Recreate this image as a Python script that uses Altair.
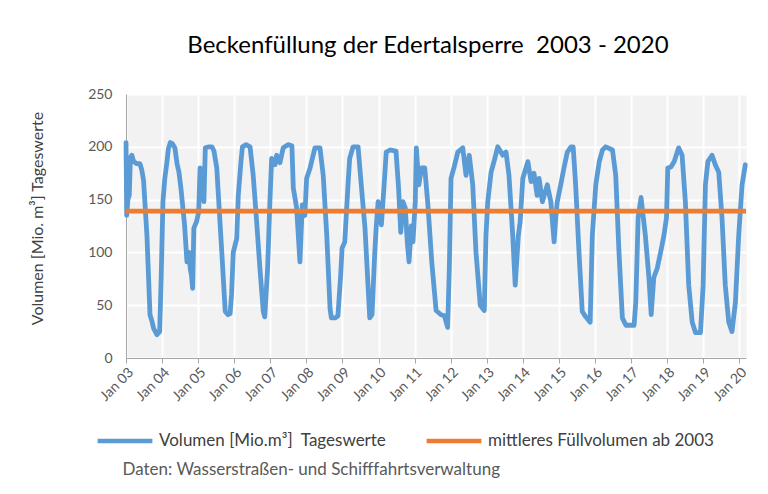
import altair as alt
import pandas as pd

# ---- data ----
dates = [
    "2003-01-01", "2003-01-08", "2003-01-20", "2003-02-03", "2003-02-15", "2003-03-01", "2003-03-20",
    "2003-04-20", "2003-05-22", "2003-06-10", "2003-06-28", "2003-08-01", "2003-09-01", "2003-09-20",
    "2003-10-08", "2003-11-10", "2003-12-08", "2003-12-24",
    "2004-01-10", "2004-01-29", "2004-02-20", "2004-03-05", "2004-03-24", "2004-04-15", "2004-05-10",
    "2004-06-01", "2004-06-20", "2004-07-10", "2004-08-16", "2004-09-09", "2004-09-30", "2004-10-12",
    "2004-10-25", "2004-11-06", "2004-11-18", "2004-12-15",
    "2005-01-06", "2005-01-20", "2005-02-01", "2005-02-20", "2005-02-28", "2005-03-14", "2005-04-20",
    "2005-05-20", "2005-06-10", "2005-07-08", "2005-08-28", "2005-10-02", "2005-10-30", "2005-11-20",
    "2005-12-05", "2005-12-22",
    "2006-01-26", "2006-02-11", "2006-03-10", "2006-03-25", "2006-05-01", "2006-06-10", "2006-07-12",
    "2006-08-16", "2006-09-18", "2006-10-22", "2006-11-06", "2006-12-05", "2006-12-28",
    "2007-01-15", "2007-02-18", "2007-03-07", "2007-04-09", "2007-05-12", "2007-06-29", "2007-08-08",
    "2007-08-22", "2007-09-25", "2007-10-28", "2007-11-21", "2007-12-17",
    "2008-01-04", "2008-02-08", "2008-03-28", "2008-05-18", "2008-06-20", "2008-07-26", "2008-08-28",
    "2008-09-10", "2008-10-20", "2008-11-16", "2008-12-14", "2008-12-28",
    "2009-01-24", "2009-02-26", "2009-03-15", "2009-04-18", "2009-06-08", "2009-07-10", "2009-08-17",
    "2009-10-04", "2009-10-27", "2009-11-24", "2009-12-10", "2009-12-28",
    "2010-01-30", "2010-03-05", "2010-03-20", "2010-04-27", "2010-06-27", "2010-07-23", "2010-08-14",
    "2010-09-06", "2010-09-29", "2010-10-19", "2010-11-06", "2010-11-29", "2010-12-16",
    "2011-01-08", "2011-01-19", "2011-02-13", "2011-03-12", "2011-04-14", "2011-05-16", "2011-06-25",
    "2011-08-07", "2011-09-26", "2011-10-30", "2011-12-02", "2011-12-19",
    "2012-01-05", "2012-02-06", "2012-03-14", "2012-05-03", "2012-06-05", "2012-07-08", "2012-08-12",
    "2012-09-14", "2012-10-27", "2012-12-07", "2012-12-24",
    "2013-01-11", "2013-02-14", "2013-03-18", "2013-04-22", "2013-06-12", "2013-07-15", "2013-08-14",
    "2013-09-21", "2013-10-16", "2013-11-17", "2013-12-05",
    "2014-01-01", "2014-02-21", "2014-03-26", "2014-04-24", "2014-05-26", "2014-06-15", "2014-07-18",
    "2014-09-06", "2014-10-12", "2014-11-14", "2014-12-01", "2014-12-16",
    "2015-01-20", "2015-02-22", "2015-03-28", "2015-05-04", "2015-05-26", "2015-06-20", "2015-07-24",
    "2015-08-26", "2015-09-30", "2015-11-14", "2015-12-06",
    "2016-01-10", "2016-02-14", "2016-03-18", "2016-04-20", "2016-06-27", "2016-07-30", "2016-09-01",
    "2016-10-05", "2016-11-10",
    "2017-02-01", "2017-02-18", "2017-03-14", "2017-04-12", "2017-05-26", "2017-07-01", "2017-07-24",
    "2017-08-19", "2017-09-23", "2017-10-27", "2017-11-30", "2017-12-26",
    "2018-01-08", "2018-02-10", "2018-03-14", "2018-04-28", "2018-06-02", "2018-07-05", "2018-08-08",
    "2018-09-12", "2018-10-16", "2018-12-05",
    "2019-01-01", "2019-01-24", "2019-02-18", "2019-04-01", "2019-05-04", "2019-06-08", "2019-07-11",
    "2019-08-13", "2019-09-17", "2019-10-20", "2019-11-24", "2019-12-27",
    "2020-01-30", "2020-03-03",
]
volumes = [
    204, 135, 150, 154, 190, 192, 186,
    184, 184, 178, 168, 116, 41, 35,
    28, 22, 25, 79,
    148, 170, 186, 198, 204, 203, 199,
    184, 176, 161, 126, 91, 100, 85,
    78, 66, 123, 129,
    138, 180, 178, 170, 148, 199, 200,
    200, 196, 180, 100, 44, 41, 42,
    60, 100,
    113, 154, 186, 200, 202, 200, 173,
    129, 85, 44, 39, 85, 148,
    189, 183, 192, 185, 199, 202, 201,
    161, 142, 91, 145, 135,
    170, 180, 199, 199, 173, 116, 47,
    38, 38, 40, 79, 104,
    110, 164, 189, 200, 200, 164, 123,
    38, 41, 100, 126, 148,
    126, 173, 195, 197, 196, 161, 119,
    148, 142, 110, 91, 125, 110,
    148, 199, 164, 180, 180, 145, 90,
    45, 41, 40, 29, 85,
    170, 181, 195, 199, 173, 192, 164,
    100, 50, 45, 116,
    148, 176, 187, 200, 192, 195, 173,
    116, 69, 116, 129,
    170, 186, 167, 175, 154, 170, 148,
    164, 148, 110, 133, 148,
    164, 180, 195, 200, 200, 164, 100,
    44, 39, 34, 116,
    164, 186, 197, 200, 197, 173, 100,
    38, 31,
    31, 53, 133, 152, 116, 76, 41,
    76, 85, 100, 116, 133,
    180, 181, 186, 199, 192, 148, 69,
    34, 24, 24,
    69, 164, 186, 192, 183, 176, 133,
    69, 34, 25, 53, 116,
    164, 183,
]
mean_dates = ["2003-01-01", "2020-03-10"]
mean_values = [139, 139]
tick_years = list(range(2003, 2021))
y_ticks = [0, 50, 100, 150, 200, 250]

series_daily = "Volumen [Mio.m³]\u00a0\u00a0Tageswerte"
series_mean = "mittleres Füllvolumen ab 2003"
title_text = "Beckenfüllung der Edertalsperre\u00a0\u00a02003 - 2020"
y_title = "Volumen [Mio. m³] Tageswerte"
note_text = "Daten: Wasserstraßen- und Schifffahrtsverwaltung"

df = pd.DataFrame({"date": pd.to_datetime(dates), "value": volumes, "series": series_daily})
dm = pd.DataFrame({"date": pd.to_datetime(mean_dates), "value": mean_values, "series": series_mean})

FONT = "Lato"

x_enc = alt.X(
    "date:T",
    scale=alt.Scale(domain=[alt.DateTime(year=2003, month=1, date=1),
                            alt.DateTime(year=2020, month=3, date=10)]),
    axis=alt.Axis(
        values=[alt.DateTime(year=y, month=1, date=1) for y in tick_years],
        format="%b %y", labelAngle=-45, labelFont=FONT, labelFontSize=14,
        labelColor="#595959", labelOverlap=False, labelBound=False,
        tickColor="#a6a6a6", tickSize=5, domainColor="#a6a6a6",
        grid=True, gridColor="white", gridWidth=2, labelPadding=2,
        title=note_text, titleFont=FONT, titleFontSize=17, titleFontWeight="normal",
        titleColor="#595959", titleX=-4, titleY=111, titleAlign="left",
        titleBaseline="middle", titleAngle=0,
    ),
)
y_enc = alt.Y(
    "value:Q",
    scale=alt.Scale(domain=[0, 250], nice=False),
    axis=alt.Axis(
        values=y_ticks, ticks=False, labelFont=FONT, labelFontSize=14, labelColor="#595959",
        labelPadding=14, domainColor="#a6a6a6", grid=True, gridColor="white", gridWidth=2,
        title=y_title, titleFont=FONT, titleFontSize=16, titleFontWeight="normal",
        titleColor="#404040", titleX=-89, titleY=124, titleAngle=270,
        titleAlign="center", titleBaseline="middle",
    ),
)
color_enc = alt.Color(
    "series:N",
    scale=alt.Scale(domain=[series_daily, series_mean], range=["#5b9bd5", "#ed7d31"]),
    legend=alt.Legend(
        title=None, orient="none", legendX=-31, legendY=317, direction="horizontal",
        symbolType="stroke", symbolSize=3000, symbolStrokeWidth=4.5,
        labelFont=FONT, labelFontSize=17, labelColor="#404040", labelOffset=4,
        labelLimit=0, columnPadding=31,
    ),
)

daily = alt.Chart(df).mark_line(strokeWidth=4.8, strokeJoin="round", strokeCap="round").encode(
    x=x_enc, y=y_enc, color=color_enc
)
mean = alt.Chart(dm).mark_line(strokeWidth=4.8).encode(x=x_enc, y=y_enc, color=color_enc)

chart = alt.layer(daily, mean).properties(
    width=620, height=264,
    padding={"left": 118, "top": 86, "right": 12, "bottom": 120},
    autosize=alt.AutoSizeParams(type="none"),
    title=alt.TitleParams(
        title_text, font=FONT, fontSize=24, fontWeight="normal", color="#000000",
        anchor="middle", frame="group", dx=-8, offset=29,
    ),
).configure_view(fill="#f2f2f2", strokeOpacity=0)

chart.save("out.html", embed_options={"renderer": "svg", "actions": False})
